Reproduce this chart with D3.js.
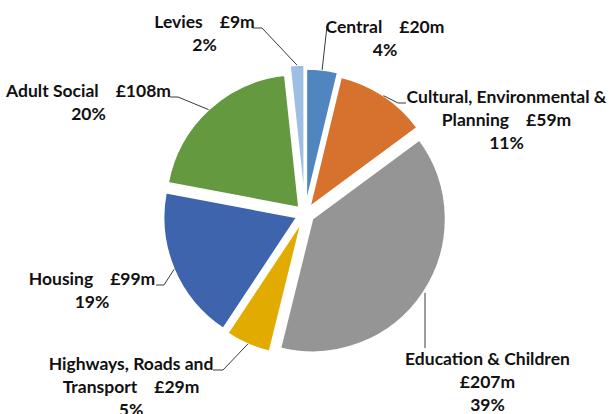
<!DOCTYPE html>
<html>
<head>
<meta charset="utf-8">
<script src="https://cdn.jsdelivr.net/npm/d3@7"></script>
<style>
  html, body { margin: 0; padding: 0; background: #fff; }
  svg { display: block; }
  text { font-family: Lato, "Open Sans", sans-serif; font-weight: bold; font-size: 17.5px; fill: #111; white-space: pre; }
</style>
</head>
<body>
<svg id="chart" width="609" height="414"></svg>
<script>
// ---- data ----
const categories = ["Central", "Cultural, Environmental & Planning", "Education & Children",
  "Highways, Roads and Transport", "Housing", "Adult Social", "Levies"];
const values = [20, 59, 207, 29, 99, 108, 9];           // £m
const nameLines = [["Central"], ["Cultural, Environmental &", "Planning"], ["Education & Children", ""],
  ["Highways, Roads and", "Transport"], ["Housing"], ["Adult Social"], ["Levies"]];

// ---- style / layout ----
const colors = ["#4f86c0", "#d6712e", "#959595", "#e1ab00", "#3e64ad", "#65993f", "#9dbfe4"];
const W = 609, H = 414;
const cx = 305, cy = 214, R = 133;
const explode = [12, 9, 9, 9, 9, 9, 16];
const labelPos = [[385, 33], [506.5, 103], [487.5, 365], [131, 370], [92, 285], [88.5, 97], [204.5, 28]];
const elbows = [
  [[325, 40], [327, 26]],
  [[398, 103], [406, 103]],
  [[425, 348], [425, 348]],
  [[223, 370], [213, 370]],
  [[164, 285], [156, 285]],
  [[178, 97], [170, 97]],
  [[262, 28], [253, 28]]
];
const lineH = 23;

const svg = d3.select("#chart");
const total = d3.sum(values);
const pie = d3.pie().sort(null).value(d => d)(values);
const arc = d3.arc().innerRadius(0).outerRadius(R);

const g = svg.append("g").attr("transform", `translate(${cx},${cy})`);

g.selectAll("path.slice").data(pie).enter().append("path")
  .attr("class", "slice")
  .attr("d", arc)
  .attr("fill", (d, i) => colors[i])
  .attr("stroke", "#fff")
  .attr("stroke-width", 1.5)
  .attr("transform", (d, i) => {
    const a = (d.startAngle + d.endAngle) / 2;
    return `translate(${explode[i] * Math.sin(a)},${-explode[i] * Math.cos(a)})`;
  });

// leader lines
pie.forEach((d, i) => {
  const a = (d.startAngle + d.endAngle) / 2;
  const rr = R + explode[i];
  const sx = cx + rr * Math.sin(a), sy = cy - rr * Math.cos(a);
  let pts;
  if (i === 0) pts = [[sx, sy], elbows[i][1]];
  else if (i === 2) pts = [[elbows[i][0][0], sy], elbows[i][0]];
  else pts = [[sx, sy], elbows[i][0], elbows[i][1]];
  svg.append("path")
    .attr("d", d3.line()(pts))
    .attr("fill", "none")
    .attr("stroke", "#3a3a3a")
    .attr("stroke-width", 1);
});

// labels
pie.forEach((d, i) => {
  const pct = Math.round(values[i] / total * 100) + "%";
  const val = "£" + values[i] + "m";
  const lines = nameLines[i].slice();
  const last = lines.length - 1;
  if (lines[last] === "") lines[last] = val; else lines[last] = lines[last] + "    " + val;
  lines.push(pct);
  const t = svg.append("text")
    .attr("text-anchor", "middle")
    .attr("x", labelPos[i][0]).attr("y", labelPos[i][1]);
  lines.forEach((ln, k) => {
    t.append("tspan").attr("x", labelPos[i][0]).attr("dy", k === 0 ? 0 : lineH).text(ln);
  });
});
</script>
</body>
</html>
